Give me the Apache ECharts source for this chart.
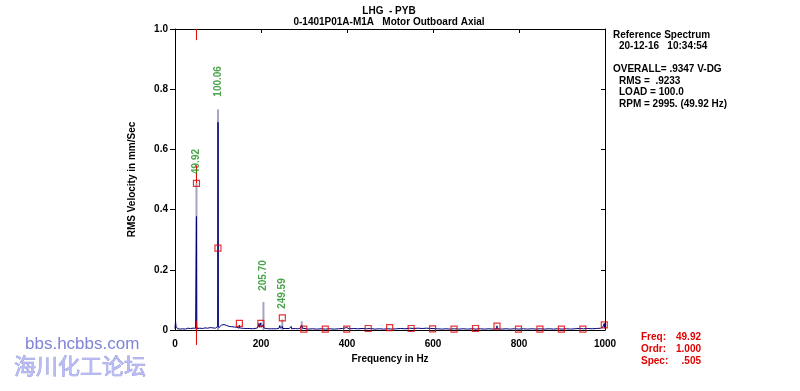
<!DOCTYPE html>
<html><head><meta charset="utf-8">
<script src="https://cdn.jsdelivr.net/npm/echarts@6/dist/echarts.min.js"></script>
<style>html,body{margin:0;padding:0;background:#fff}#c{width:800px;height:391px}</style>
</head><body><div id="c"></div>
<script>
// Spectrum (navy) [Hz, mm/s]
const spectrum = [
[0,0.004],[1.2,0.03],[2.5,0.012],[4,0.006],[6,0.004],[9,0.005],[12,0.003],[15,0.005],[18,0.004],[21,0.006],
[24,0.003],[27,0.004],[30,0.006],[33,0.003],[36,0.005],[39,0.004],[42,0.006],[45,0.004],[48,0.006],[49.3,0.01],
[49.92,0.377],[50.5,0.012],[52,0.005],[55,0.004],[58,0.006],[61,0.003],[64,0.005],[67,0.004],[70,0.007],[73,0.004],
[76,0.006],[79,0.005],[82,0.008],[85,0.005],[88,0.007],[91,0.005],[94,0.006],[97,0.008],[99.4,0.012],[100.06,0.69],
[100.7,0.015],[102,0.008],[105,0.01],[108,0.016],[111,0.014],[114,0.018],[117,0.013],[120,0.015],[123,0.011],[126,0.012],
[129,0.009],[132,0.011],[135,0.008],[138,0.01],[141,0.007],[144,0.009],[147,0.008],[149.2,0.006],[149.8,0.016],[150.4,0.007],
[153,0.008],[156,0.006],[159,0.007],[162,0.005],[165,0.006],[168,0.005],[171,0.007],[174,0.005],[177,0.006],[180,0.004],
[183,0.006],[186,0.005],[189,0.006],[192,0.007],[194.5,0.008],[195.5,0.022],[196.5,0.009],[198.5,0.01],[199.7,0.024],[200.5,0.009],
[203,0.007],[205,0.009],[205.7,0.018],[206.5,0.007],[209,0.006],[212,0.005],[215,0.006],[218,0.004],[221,0.005],[224,0.004],
[227,0.005],[230,0.004],[233,0.005],[236,0.004],[239,0.005],[242,0.006],[243.8,0.015],[244.6,0.006],[247,0.005],[249.6,0.012],
[250.4,0.005],[254,0.004],[258,0.005],[262,0.004],[266,0.005],[269.5,0.007],[270.3,0.012],[271,0.004],[275,0.004],[280,0.005],
[285,0.004],[290,0.005],[293,0.006],[294.5,0.015],[295.5,0.016],[296.5,0.006],[300,0.004],[310,0.003],[320,0.004],[330,0.003],
[340,0.004],[350,0.003],[360,0.004],[370,0.003],[380,0.004],[390,0.005],[399.4,0.008],[405,0.004],[415,0.005],[425,0.004],
[435,0.005],[445,0.004],[455,0.005],[465,0.003],[475,0.004],[485,0.003],[495,0.004],[505,0.003],[515,0.004],[525,0.005],
[535,0.004],[545,0.006],[549.1,0.009],[555,0.005],[565,0.006],[575,0.005],[585,0.006],[595,0.005],[599.5,0.008],[610,0.004],
[620,0.003],[630,0.004],[640,0.003],[650,0.004],[660,0.003],[670,0.004],[680,0.003],[690,0.004],[700,0.003],[710,0.004],
[720,0.003],[730,0.004],[740,0.003],[748.1,0.004],[748.8,0.014],[749.5,0.004],[760,0.003],[770,0.004],[780,0.003],[790,0.004],
[800,0.003],[810,0.004],[820,0.003],[830,0.004],[840,0.003],[850,0.004],[860,0.003],[870,0.004],[880,0.003],[890,0.004],
[900,0.003],[910,0.004],[920,0.003],[930,0.004],[940,0.005],[950,0.004],[960,0.005],[970,0.004],[980,0.005],[990,0.006],
[995,0.01],[997.5,0.006],[998.4,0.022],[999.2,0.006],[1000,0.005]
];
// Reference spectrum overlay (gray) peaks
const refFreq = [49.92, 100.06, 205.70, 249.59, 294.8];
const refAmp  = [0.487, 0.733, 0.093, 0.035, 0.029];
// Harmonic markers (red squares)
const harmFreq = [49.92,99.84,149.76,199.68,249.60,299.52,349.44,399.36,449.28,499.20,549.12,599.04,648.96,698.88,748.80,798.72,848.64,898.56,948.48,998.40];
const harmAmp  = [0.487,0.272,0.022,0.022,0.040,0.003,0.003,0.003,0.005,0.008,0.005,0.004,0.003,0.005,0.013,0.003,0.003,0.003,0.003,0.017];
// Peak labels
const peakLabels = ['49.92','100.06','205.70','249.59'];
const peakFreq = [49.92, 100.06, 205.70, 249.59];
const peakAnchor = [0.485, 0.742, 0.097, 0.037];
// Cursor
const cursorFreq = 49.92;
const cursorSpec = 0.547;
// Axis ticks
const xTicks = [0,200,400,600,800,1000];
const yTicks = [0,0.2,0.4,0.6,0.8,1.0];

const infoLines = [
  ['Reference Spectrum', 613, 35],
  ['20-12-16   10:34:54', 619, 46],
  ['OVERALL= .9347 V-DG', 613, 69],
  ['RMS =  .9233', 619, 81],
  ['LOAD = 100.0', 619, 92],
  ['RPM = 2995. (49.92 Hz)', 619, 104]
];
const cursorInfo = [['Freq:','49.92',337],['Ordr:','1.000',349],['Spec:','.505',361]];

const FONT = '"Liberation Sans", Arial, sans-serif';
const chart = echarts.init(document.getElementById('c'), null, {renderer:'canvas'});

const graphics = [];
graphics.push({type:'text', style:{text:'LHG  - PYB', x:389, y:11, align:'center', verticalAlign:'middle', font:'bold 10px '+FONT, fill:'#000'}});
graphics.push({type:'text', style:{text:'0-1401P01A-M1A   Motor Outboard Axial', x:389, y:22, align:'center', verticalAlign:'middle', font:'bold 10px '+FONT, fill:'#000'}});
infoLines.forEach(l => graphics.push({type:'text', style:{text:l[0], x:l[1], y:l[2], verticalAlign:'middle', font:'bold 10px '+FONT, fill:'#000'}}));
cursorInfo.forEach(l => {
  graphics.push({type:'text', style:{text:l[0], x:641, y:l[2], verticalAlign:'middle', font:'bold 10px '+FONT, fill:'#e00000'}});
  graphics.push({type:'text', style:{text:l[1], x:701, y:l[2], align:'right', verticalAlign:'middle', font:'bold 10px '+FONT, fill:'#e00000'}});
});
graphics.push({type:'text', style:{text:'bbs.hcbbs.com', x:25, y:344, verticalAlign:'middle', font:'17px '+FONT, fill:'#7f84d6'}});
graphics.push({type:'text', style:{text:'海川化工论坛', x:14, y:366, verticalAlign:'middle', font:'22px "Noto Sans CJK SC", sans-serif', fill:'#b8bcf2', stroke:'#9296da', lineWidth:0.7}});

chart.setOption({
  animation:false,
  backgroundColor:'#fff',
  grid:{left:175, top:29, width:430, height:301},
  xAxis:[{
    type:'value', min:0, max:1000, interval:200, position:'bottom',
    name:'Frequency in Hz', nameLocation:'middle', nameGap:22,
    nameTextStyle:{fontFamily:FONT, fontWeight:'bold', fontSize:10, color:'#000'},
    axisLine:{show:true, onZero:false, lineStyle:{color:'#000', width:1}},
    axisTick:{show:false},
    axisLabel:{fontFamily:FONT, fontWeight:'bold', fontSize:10, color:'#000', margin:9,
      formatter:v => String(v)},
    splitLine:{show:false}
  },{
    type:'value', min:0, max:1000, interval:200, position:'top',
    axisLine:{show:true, onZero:false, lineStyle:{color:'#000', width:1}},
    axisTick:{show:true, inside:true, length:4, lineStyle:{color:'#000'}},
    axisLabel:{show:false}, splitLine:{show:false}
  }],
  yAxis:[{
    type:'value', min:0, max:1.0, interval:0.2, position:'left',
    name:'RMS Velocity in mm/Sec', nameLocation:'middle', nameGap:38,
    nameTextStyle:{fontFamily:FONT, fontWeight:'bold', fontSize:10, color:'#000'},
    axisLine:{show:true, onZero:false, lineStyle:{color:'#000', width:1}},
    axisTick:{show:true, inside:false, length:5, lineStyle:{color:'#000'}},
    axisLabel:{fontFamily:FONT, fontWeight:'bold', fontSize:10, color:'#000', margin:7,
      formatter:v => v===0 ? '0' : v.toFixed(1)},
    splitLine:{show:false}
  },{
    type:'value', min:0, max:1.0, interval:0.2, position:'right',
    axisLine:{show:true, onZero:false, lineStyle:{color:'#000', width:1}},
    axisTick:{show:true, inside:true, length:4, lineStyle:{color:'#000'}},
    axisLabel:{show:false}, splitLine:{show:false}
  }],
  series:[
    {type:'bar', barWidth:2, data:refFreq.map((f,i)=>[f,refAmp[i]]), itemStyle:{color:'#a4a4c4'}, z:1, silent:true},
    {type:'line', data:spectrum, symbol:'none', lineStyle:{color:'#00007a', width:1}, z:2, silent:true},
    {type:'line', data:[[cursorFreq,harmAmp[0]],[cursorFreq,cursorSpec]], symbol:'none', lineStyle:{color:'#e00000', width:1}, z:3},
    {type:'line', data:[[cursorFreq,1.0],[cursorFreq,0.963]], symbol:'none', lineStyle:{color:'#e00000', width:1}, z:3},
    {type:'line', data:[[cursorFreq,0.03],[cursorFreq,-0.05]], symbol:'none', clip:false, lineStyle:{color:'#e00000', width:1}, z:3},
    {type:'scatter', data:harmFreq.map((f,i)=>[f,harmAmp[i]]), symbol:'rect', symbolSize:6,
      itemStyle:{color:'rgba(255,255,255,0)', borderColor:'#e00000', borderWidth:1.2}, z:4},
    {type:'scatter', data:peakFreq.map((f,i)=>({value:[f,peakAnchor[i]], label:{formatter:peakLabels[i]}})), symbolSize:0, z:5,
      label:{show:true, position:'top', distance:10, rotate:90, align:'left', verticalAlign:'middle',
        fontFamily:FONT, fontWeight:'bold', fontSize:10, color:'#1e8c1e'}}
  ],
  graphic:graphics
});
</script></body></html>
